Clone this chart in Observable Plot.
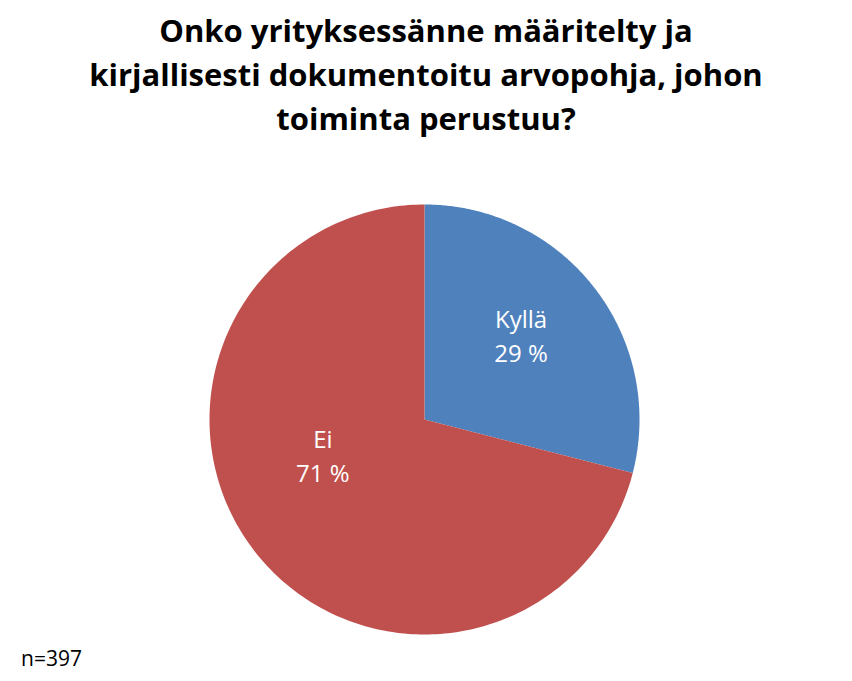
<!DOCTYPE html>
<html>
<head>
<meta charset="utf-8">
<script src="https://cdn.jsdelivr.net/npm/d3@7"></script>
<script src="https://cdn.jsdelivr.net/npm/@observablehq/plot@0.6"></script>
<style>
  html, body { margin: 0; padding: 0; background: #fff; }
  body { width: 852px; height: 681px; overflow: hidden; font-family: "Open Sans", Lato, sans-serif; }
  #title { height: 160px; box-sizing: border-box; padding-top: 8px; text-align: center; font-weight: bold; font-size: 31px; line-height: 44px; color: #000; white-space: nowrap; }
  #chart { height: 490px; }
  #caption { height: 31px; font-size: 21px; padding-left: 21px; line-height: 16px; color: #000; }
</style>
</head>
<body>
<div id="title">Onko yrityksessänne määritelty ja<br>kirjallisesti dokumentoitu arvopohja, johon<br>toiminta perustuu?</div>
<div id="chart"></div>
<div id="caption">n=397</div>
<script>
const categories = ["Kyllä", "Ei"];
const values = [29, 71];
const colors = ["#4F81BD", "#C0504D"];

const total = d3.sum(values);
// slices start at 12 o'clock and run clockwise
let acc = 0;
const slices = categories.map((c, i) => {
  const a0 = acc / total * 2 * Math.PI;
  acc += values[i];
  const a1 = acc / total * 2 * Math.PI;
  return {label: c, value: values[i], a0, a1, color: colors[i]};
});

const pts = [];
for (const s of slices) {
  pts.push({label: s.label, x: 0, y: 0});
  const n = 240;
  for (let k = 0; k <= n; k++) {
    const a = s.a0 + (s.a1 - s.a0) * k / n;
    pts.push({label: s.label, x: Math.sin(a), y: Math.cos(a)});
  }
  pts.push({label: s.label, x: 0, y: 0});
}

// label placement (Excel "best fit"-like), angle in degrees clockwise from 12 o'clock
const placement = {"Kyllä": {deg: 48.5, r: 0.6}, "Ei": {deg: 251, r: 0.5}};
const labels = slices.map(s => {
  const p = placement[s.label];
  const a = p.deg * Math.PI / 180;
  return {text: `${s.label}\n${s.value} %`, x: p.r * Math.sin(a), y: p.r * Math.cos(a)};
});

const chart = Plot.plot({
  width: 852,
  height: 490,
  marginLeft: 209,
  marginRight: 213,
  marginTop: 44,
  marginBottom: 16,
  x: {domain: [-1, 1], axis: null},
  y: {domain: [-1, 1], axis: null},
  color: {domain: categories, range: colors},
  style: {fontFamily: "'Open Sans', Lato, sans-serif", background: "#fff"},
  marks: [
    Plot.line(pts, {x: "x", y: "y", z: "label", fill: "label", stroke: "none", curve: "linear"}),
    Plot.text(labels, {x: "x", y: "y", text: "text", fill: "white", fontSize: 24, lineHeight: 1.42})
  ]
});
document.getElementById("chart").appendChild(chart);
</script>
</body>
</html>
